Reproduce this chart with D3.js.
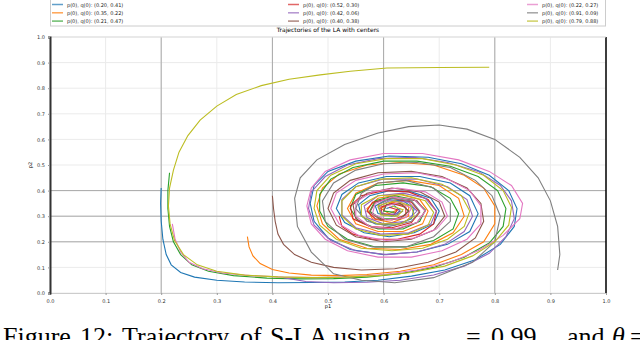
<!DOCTYPE html>
<html>
<head>
<meta charset="utf-8">
<script src="https://cdn.jsdelivr.net/npm/d3@7/dist/d3.min.js"></script>
<style>
body{margin:0;background:#fff;}
svg{display:block;}
.tick text{font-family:"DejaVu Sans",sans-serif;fill:#333;}
</style>
</head>
<body>
<div id="gt"></div>
<script>
// starting points (legend) and trajectories
var names = ["blue","orange","green","red","purple","brown","pink","gray","olive"];
var colors = ["#1f77b4","#ff7f0e","#2ca02c","#d62728","#9467bd","#8c564b","#e377c2","#7f7f7f","#bcbd22"];
var starts = ["(0.20, 0.41)","(0.35, 0.22)","(0.21, 0.47)","(0.52, 0.30)","(0.42, 0.06)","(0.40, 0.38)","(0.22, 0.27)","(0.91, 0.09)","(0.79, 0.88)"];
var xTicks = [0,0.1,0.2,0.3,0.4,0.5,0.6,0.7,0.8,0.9,1.0];
var yTicks = [0,0.1,0.2,0.3,0.4,0.5,0.6,0.7,0.8,0.9,1.0];
var darkX = [0.2,0.4,0.6,0.8];
var darkY = [0.2,0.3,0.4];

var blue = [[0.200,0.410],[0.199,0.35],[0.200,0.28],[0.203,0.21],[0.209,0.15],[0.218,0.11],[0.235,0.08],[0.26,0.062],[0.30,0.05],[0.35,0.043],[0.41,0.040],[0.47,0.041],[0.53,0.043],[0.59,0.05],[0.65,0.066],[0.71,0.09],[0.765,0.13],[0.81,0.19],[0.835,0.26],[0.84,0.33],[0.825,0.40],[0.79,0.46],[0.74,0.505],[0.68,0.53],[0.61,0.535],[0.55,0.515],[0.50,0.475],[0.475,0.42],[0.468,0.35],[0.475,0.28],[0.50,0.215],[0.54,0.17],[0.60,0.15],[0.66,0.16],[0.715,0.19],[0.755,0.24],[0.77,0.31],[0.755,0.38],[0.72,0.43],[0.665,0.455],[0.605,0.455],[0.555,0.43],[0.525,0.385],[0.515,0.33],[0.53,0.275],[0.565,0.235],[0.61,0.22],[0.655,0.235],[0.69,0.27],[0.70,0.32],[0.685,0.37],[0.65,0.395],[0.61,0.40],[0.575,0.38],[0.555,0.345],[0.56,0.30],[0.585,0.27],[0.62,0.265],[0.65,0.29],[0.655,0.33],[0.635,0.36],[0.605,0.365],[0.585,0.34],[0.59,0.31],[0.615,0.30],[0.63,0.32],[0.62,0.34],[0.605,0.33]];
var orange = [[0.355,0.220],[0.358,0.18],[0.365,0.145],[0.378,0.115],[0.40,0.092],[0.43,0.078],[0.47,0.07],[0.52,0.068],[0.57,0.072],[0.63,0.085],[0.69,0.11],[0.74,0.15],[0.78,0.20],[0.80,0.27],[0.80,0.34],[0.78,0.41],[0.745,0.46],[0.69,0.50],[0.63,0.51],[0.57,0.50],[0.52,0.465],[0.49,0.41],[0.48,0.34],[0.49,0.27],[0.52,0.21],[0.57,0.175],[0.63,0.17],[0.685,0.19],[0.725,0.235],[0.745,0.30],[0.735,0.37],[0.70,0.42],[0.645,0.44],[0.59,0.43],[0.55,0.39],[0.535,0.33],[0.55,0.27],[0.59,0.24],[0.635,0.24],[0.67,0.27],[0.68,0.32],[0.665,0.365],[0.63,0.385],[0.59,0.37],[0.57,0.33],[0.58,0.29],[0.615,0.275],[0.645,0.30],[0.645,0.34],[0.615,0.355],[0.595,0.33],[0.61,0.31],[0.625,0.325]];
var green = [[0.215,0.470],[0.212,0.40],[0.212,0.33],[0.215,0.26],[0.222,0.20],[0.235,0.15],[0.255,0.11],[0.285,0.085],[0.33,0.068],[0.39,0.058],[0.45,0.055],[0.51,0.056],[0.57,0.062],[0.63,0.075],[0.69,0.10],[0.745,0.14],[0.79,0.195],[0.815,0.26],[0.82,0.33],[0.805,0.40],[0.77,0.455],[0.72,0.495],[0.66,0.515],[0.60,0.515],[0.545,0.49],[0.505,0.445],[0.485,0.385],[0.485,0.32],[0.50,0.26],[0.535,0.21],[0.585,0.18],[0.64,0.18],[0.69,0.205],[0.725,0.25],[0.735,0.31],[0.72,0.37],[0.685,0.415],[0.635,0.43],[0.585,0.42],[0.55,0.385],[0.54,0.33],[0.555,0.28],[0.59,0.25],[0.635,0.25],[0.665,0.28],[0.675,0.325],[0.655,0.365],[0.62,0.38],[0.585,0.36],[0.575,0.32],[0.595,0.29],[0.63,0.29],[0.645,0.32],[0.63,0.35],[0.605,0.345],[0.60,0.32],[0.62,0.315]];
var red = [[0.52,0.300],[0.525,0.26],[0.545,0.23],[0.58,0.21],[0.625,0.21],[0.665,0.23],[0.69,0.27],[0.695,0.32],[0.68,0.365],[0.645,0.395],[0.60,0.40],[0.56,0.38],[0.54,0.34],[0.545,0.29],[0.575,0.26],[0.615,0.255],[0.65,0.275],[0.665,0.315],[0.65,0.355],[0.615,0.37],[0.58,0.355],[0.57,0.32],[0.585,0.29],[0.615,0.285],[0.64,0.305],[0.64,0.335],[0.615,0.35],[0.595,0.335],[0.597,0.31],[0.618,0.305],[0.625,0.325],[0.61,0.335]];
var purple = [[0.42,0.060],[0.46,0.045],[0.51,0.040],[0.57,0.042],[0.63,0.05],[0.69,0.07],[0.745,0.105],[0.79,0.155],[0.82,0.22],[0.835,0.29],[0.83,0.36],[0.81,0.42],[0.77,0.475],[0.715,0.51],[0.655,0.53],[0.59,0.525],[0.535,0.50],[0.495,0.455],[0.47,0.395],[0.465,0.33],[0.475,0.265],[0.505,0.205],[0.55,0.165],[0.605,0.15],[0.66,0.16],[0.71,0.19],[0.745,0.24],[0.76,0.30],[0.75,0.365],[0.715,0.415],[0.66,0.445],[0.60,0.445],[0.55,0.415],[0.525,0.365],[0.525,0.305],[0.55,0.255],[0.595,0.23],[0.645,0.235],[0.685,0.27],[0.695,0.32],[0.675,0.37],[0.635,0.39],[0.59,0.38],[0.565,0.34],[0.57,0.295],[0.60,0.27],[0.64,0.28],[0.66,0.32],[0.645,0.355],[0.61,0.36],[0.59,0.335],[0.60,0.305],[0.625,0.31],[0.63,0.33]];
var brown = [[0.400,0.380],[0.402,0.33],[0.405,0.28],[0.41,0.23],[0.42,0.19],[0.44,0.15],[0.47,0.12],[0.51,0.10],[0.56,0.09],[0.62,0.095],[0.68,0.12],[0.73,0.16],[0.765,0.215],[0.78,0.28],[0.775,0.35],[0.75,0.41],[0.705,0.455],[0.65,0.475],[0.59,0.47],[0.54,0.44],[0.51,0.39],[0.50,0.33],[0.515,0.265],[0.55,0.22],[0.60,0.20],[0.65,0.21],[0.69,0.245],[0.71,0.30],[0.70,0.355],[0.665,0.395],[0.615,0.41],[0.57,0.39],[0.545,0.345],[0.55,0.29],[0.58,0.255],[0.625,0.25],[0.66,0.275],[0.675,0.32],[0.66,0.36],[0.62,0.375],[0.585,0.355],[0.575,0.315],[0.595,0.285],[0.63,0.29],[0.645,0.32],[0.63,0.35],[0.605,0.345],[0.60,0.32]];
var pink = [[0.22,0.270],[0.225,0.21],[0.235,0.16],[0.25,0.12],[0.275,0.095],[0.31,0.078],[0.36,0.068],[0.42,0.062],[0.48,0.06],[0.54,0.063],[0.60,0.072],[0.66,0.09],[0.72,0.12],[0.77,0.165],[0.815,0.225],[0.845,0.29],[0.85,0.35],[0.83,0.42],[0.79,0.475],[0.735,0.52],[0.67,0.545],[0.60,0.545],[0.54,0.52],[0.495,0.475],[0.47,0.41],[0.462,0.34],[0.47,0.27],[0.495,0.21],[0.535,0.165],[0.59,0.14],[0.65,0.14],[0.705,0.165],[0.75,0.21],[0.775,0.27],[0.775,0.34],[0.755,0.40],[0.715,0.445],[0.66,0.47],[0.60,0.465],[0.55,0.44],[0.515,0.39],[0.505,0.33],[0.52,0.27],[0.555,0.225],[0.605,0.205],[0.655,0.215],[0.695,0.25],[0.715,0.30],[0.705,0.355],[0.675,0.395],[0.625,0.41],[0.58,0.395],[0.55,0.355],[0.55,0.30],[0.575,0.26],[0.62,0.25],[0.66,0.275],[0.675,0.32],[0.655,0.365],[0.615,0.375],[0.585,0.35],[0.58,0.31],[0.605,0.285],[0.64,0.295],[0.65,0.33],[0.63,0.355],[0.605,0.34]];
var gray = [[0.913,0.090],[0.917,0.15],[0.913,0.26],[0.90,0.36],[0.878,0.45],[0.845,0.53],[0.80,0.60],[0.75,0.64],[0.70,0.656],[0.645,0.65],[0.59,0.625],[0.53,0.58],[0.48,0.52],[0.45,0.45],[0.44,0.37],[0.445,0.26],[0.47,0.16],[0.51,0.075],[0.56,0.05],[0.62,0.04],[0.69,0.06],[0.76,0.12],[0.80,0.20],[0.81,0.30],[0.795,0.38],[0.765,0.44],[0.72,0.49],[0.66,0.51],[0.60,0.505],[0.55,0.48],[0.51,0.43],[0.49,0.36],[0.495,0.28],[0.53,0.21],[0.58,0.18],[0.64,0.18],[0.69,0.22],[0.72,0.28],[0.72,0.35],[0.69,0.41],[0.64,0.44],[0.59,0.43],[0.56,0.39],[0.55,0.33],[0.57,0.28],[0.61,0.26],[0.65,0.28],[0.665,0.32],[0.65,0.36],[0.615,0.37],[0.59,0.345],[0.595,0.31],[0.62,0.30],[0.635,0.32]];
var olive = [[0.790,0.882],[0.70,0.881],[0.606,0.879],[0.54,0.866],[0.486,0.852],[0.43,0.835],[0.38,0.81],[0.335,0.775],[0.30,0.73],[0.27,0.675],[0.248,0.615],[0.232,0.55],[0.222,0.48],[0.215,0.41],[0.213,0.34],[0.216,0.27],[0.224,0.205],[0.24,0.15],[0.265,0.11],[0.30,0.085],[0.35,0.07],[0.41,0.063],[0.47,0.06],[0.53,0.062],[0.59,0.068],[0.65,0.08],[0.71,0.105],[0.76,0.145],[0.80,0.20],[0.825,0.265],[0.83,0.335],[0.815,0.40],[0.78,0.46],[0.73,0.50],[0.67,0.525],[0.605,0.525],[0.55,0.505],[0.505,0.46],[0.48,0.40],[0.475,0.33],[0.485,0.265],[0.515,0.21],[0.56,0.175],[0.615,0.165],[0.67,0.175],[0.715,0.21],[0.745,0.26],[0.755,0.32],[0.74,0.38],[0.705,0.425],[0.65,0.45],[0.595,0.445],[0.55,0.415],[0.525,0.36],[0.525,0.30],[0.55,0.25],[0.595,0.225],[0.645,0.23],[0.68,0.265],[0.69,0.315],[0.675,0.36],[0.635,0.385],[0.59,0.38],[0.56,0.345],[0.56,0.30],[0.59,0.27],[0.63,0.27],[0.655,0.30],[0.65,0.34],[0.62,0.36],[0.59,0.34],[0.595,0.305],[0.625,0.30],[0.635,0.325],[0.615,0.34]];

var series = [blue,orange,green,red,purple,brown,pink,gray,olive];

// caption words and where each one starts
var capWords = ["Figure","12:","Trajectory","of","S-LA","using","p","=","0.99","and","θ","="];
var capX = [3,80,122,240,270,334,397,466,491,567,612,630];

var margin = {t:37,l:50,b:47,r:34},
    width = 640-margin.l-margin.r,
    height = 340-margin.t-margin.b;

var svg = d3.select("#gt")
    .append('svg')
    .attr('width',640)
    .attr('height',340);

var x = d3.scaleLinear().domain([0,1]).range([0,width]);
var y = d3.scaleLinear().domain([0,1]).range([height,0]);

draw_chart();

function draw_chart(){
    var g = svg.append("g")
        .attr("transform","translate("+margin.l+","+margin.t+")");

    // light grid
    g.selectAll(".gx").data(xTicks).enter().append("line")
        .attr("x1",function(d){return x(d);}).attr("x2",function(d){return x(d);})
        .attr("y1",0).attr("y2",height)
        .attr("stroke","#ebebeb").attr("stroke-width",1);
    g.selectAll(".gy").data(yTicks).enter().append("line")
        .attr("x1",0).attr("x2",width)
        .attr("y1",function(d){return y(d);}).attr("y2",function(d){return y(d);})
        .attr("stroke","#ebebeb").attr("stroke-width",1);

    // darker reference lines
    g.selectAll(".dx").data(darkX).enter().append("line")
        .attr("x1",function(d){return x(d);}).attr("x2",function(d){return x(d);})
        .attr("y1",0).attr("y2",height)
        .attr("stroke","#a8a8a8").attr("stroke-width",1);
    g.selectAll(".dy").data(darkY).enter().append("line")
        .attr("x1",0).attr("x2",width)
        .attr("y1",function(d){return y(d);}).attr("y2",function(d){return y(d);})
        .attr("stroke","#a8a8a8").attr("stroke-width",1);

    var d3line = d3.line()
        .x(function(d){return x(d[0]);})
        .y(function(d){return y(d[1]);});

    g.selectAll(".traj").data(series).enter().append("path")
        .attr("d",function(d){return d3line(d);})
        .attr("fill","none")
        .attr("stroke",function(d,i){return colors[i];})
        .attr("stroke-width",1.1);

    // frame
    g.append("line").attr("x1",width).attr("x2",width).attr("y1",0).attr("y2",height)
        .attr("stroke","#000").attr("stroke-width",1.5);
    g.append("line").attr("x1",0).attr("x2",width).attr("y1",0).attr("y2",0)
        .attr("stroke","#ddd");

    var xa = g.append("g")
        .attr("transform","translate(0,"+height+")")
        .call(d3.axisBottom(x).tickValues(xTicks).tickFormat(d3.format(".1f")).tickSize(2));
    xa.select(".domain").attr("stroke","#ccc");
    xa.selectAll(".tick line").attr("stroke","#999");
    xa.selectAll("text").attr("font-size",5).attr("dy","0.9em");

    var ya = g.append("g")
        .call(d3.axisLeft(y).tickValues(yTicks).tickFormat(d3.format(".1f")).tickSize(2));
    ya.select(".domain").attr("stroke","#333").attr("stroke-width",2);
    ya.selectAll(".tick line").attr("stroke","#999");
    ya.selectAll("text").attr("font-size",5);

    g.append("text").attr("x",width/2).attr("y",height+15)
        .attr("text-anchor","middle").attr("font-family","DejaVu Sans").attr("font-size",5)
        .text("p1");
    g.append("text").attr("transform","translate(-18,"+(height/2)+") rotate(-90)")
        .attr("text-anchor","middle").attr("font-family","DejaVu Sans").attr("font-size",5)
        .text("p2");

    g.append("text").attr("x",width/2).attr("y",-5)
        .attr("text-anchor","middle").attr("font-family","DejaVu Sans").attr("font-size",6)
        .text("Trajectories of the LA with centers");

    // legend
    var lg = svg.append("g");
    lg.append("rect").attr("x",50.5).attr("y",-1).attr("width",width-1).attr("height",27)
        .attr("fill","#fff").attr("stroke","#ccc");
    var colX = [52,288,527];
    var item = lg.selectAll(".leg").data(names).enter().append("g")
        .attr("transform",function(d,i){
            return "translate("+colX[Math.floor(i/3)]+","+(4.5+(i%3)*8.3)+")";
        });
    item.append("line").attr("x1",0).attr("x2",11).attr("y1",0).attr("y2",0)
        .attr("stroke",function(d,i){return colors[i];}).attr("stroke-width",1.5).attr("opacity",0.7);
    item.append("text").attr("x",15).attr("y",2)
        .attr("font-family","DejaVu Sans").attr("font-size",5).attr("fill","#222")
        .text(function(d,i){return "p(0), q(0): "+starts[i];});

    // caption (runs past the bottom edge as in the reference)
    var cap = svg.append("text").attr("y",345)
        .attr("font-family","Liberation Serif").attr("font-size",26).attr("fill","#000");
    cap.selectAll("tspan").data(capWords).enter().append("tspan")
        .attr("x",function(d,i){return capX[i];})
        .attr("font-style",function(d){return (d=="p"||d=="θ")?"italic":"normal";})
        .text(function(d){return d;});
}
</script>
</body>
</html>
